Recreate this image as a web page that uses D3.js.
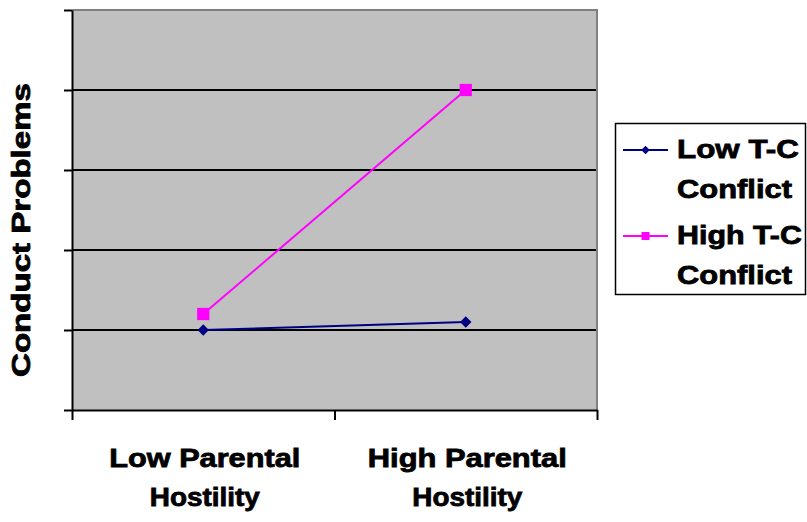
<!DOCTYPE html>
<html>
<head>
<meta charset="utf-8">
<script src="https://cdn.jsdelivr.net/npm/d3@7"></script>
<style>
	body { margin: 0; background: #fff; }
	svg { display: block; font-family: "Liberation Sans", Arial, sans-serif; font-weight: bold; }
</style>
</head>
<body>
<div id="chart"></div>
<script>
// data (unlabelled y scale, 0..5)
const categories = ['Low Parental Hostility', 'High Parental Hostility'];
const categoryLines = [['Low Parental', 'Hostility'], ['High Parental', 'Hostility']];
const lowConflict = [1.0, 1.1];
const highConflict = [1.2, 4.0];
const seriesNames = [['Low T-C', 'Conflict'], ['High T-C', 'Conflict']];
const yTicks = [0, 1, 2, 3, 4, 5];

const width = 807, height = 522;
const plot = { left: 72, right: 597, top: 10, bottom: 410 };

const $svg = d3.select('#chart').append('svg')
	.attr('width', width)
	.attr('height', height);

const x = d3.scaleBand()
	.domain(categories)
	.range([plot.left, plot.right])
	.padding(0);
const xEdge = d3.scaleLinear().domain([0, categories.length]).range([plot.left, plot.right]);
const y = d3.scaleLinear().domain([0, 5]).range([plot.bottom, plot.top]);

// text stretched along its reading direction, like the original
function wideText($parent, str, px, py, target, anchor, rotate) {
	const $g = $parent.append('g')
		.attr('transform', `translate(${px},${py})` + (rotate ? ' rotate(-90)' : ''));
	const $t = $g.append('text')
		.attr('font-size', 26)
		.attr('text-anchor', anchor)
		.attr('stroke', '#000')
		.attr('stroke-width', 0.8)
		.text(str);
	const sx = target / $t.node().getComputedTextLength();
	$t.attr('transform', `scale(${sx},1)`);
	return $t;
}

// plot area
$svg.append('rect')
	.attr('x', plot.left)
	.attr('y', plot.top)
	.attr('width', plot.right - plot.left)
	.attr('height', plot.bottom - plot.top)
	.attr('fill', '#c0c0c0');

// gridlines
$svg.append('g')
	.selectAll('line')
	.data(yTicks.filter(d => d > 0 && d < 5))
	.enter()
	.append('line')
	.attr('x1', plot.left)
	.attr('x2', plot.right)
	.attr('y1', d => y(d))
	.attr('y2', d => y(d))
	.attr('stroke', '#000')
	.attr('stroke-width', 2);

// gray border top/right
$svg.append('path')
	.attr('d', `M${plot.left},${plot.top}H${plot.right}V${plot.bottom}`)
	.attr('fill', 'none')
	.attr('stroke', '#808080')
	.attr('stroke-width', 2);

// axes
const yAxis = $svg.append('g')
	.attr('transform', `translate(${plot.left},0)`)
	.call(d3.axisLeft(y).tickValues(yTicks).tickFormat('').tickSize(8).tickSizeOuter(0));
const xAxis = $svg.append('g')
	.attr('transform', `translate(0,${plot.bottom})`)
	.call(d3.axisBottom(xEdge).tickValues(d3.range(categories.length + 1)).tickFormat('').tickSize(10).tickSizeOuter(0));
[yAxis, xAxis].forEach(a => {
	a.selectAll('path, line').attr('stroke', '#000').attr('stroke-width', 2);
});

// category labels
const catLengths = [[191, 110], [199, 110]];
categories.forEach((c, i) => {
	categoryLines[i].forEach((t, j) => {
		wideText($svg, t, x(c) + x.bandwidth() / 2 + 1.5, 467 + j * 39, catLengths[i][j], 'middle');
	});
});

// y title
wideText($svg, 'Conduct Problems', 30, 230, 294, 'middle', true);

// series
const series = [
	{ values: lowConflict, color: '#000080', size: 64, lsize: 36, rot: 45 },
	{ values: highConflict, color: '#ff00ff', size: 150, lsize: 64, rot: 0 }
];
const line = d3.line()
	.x((d, i) => x(categories[i]) + x.bandwidth() / 2)
	.y(d => y(d));

series.forEach(s => {
	$svg.append('path')
		.datum(s.values)
		.attr('d', line)
		.attr('fill', 'none')
		.attr('stroke', s.color)
		.attr('stroke-width', 2);
	$svg.append('g')
		.selectAll('path')
		.data(s.values)
		.enter()
		.append('path')
		.attr('transform', (d, i) => `translate(${x(categories[i]) + x.bandwidth() / 2},${y(d)}) rotate(${s.rot})`)
		.attr('d', d3.symbol().type(d3.symbolSquare).size(s.size))
		.attr('fill', s.color);
});

// legend
const $legend = $svg.append('g');
$legend.append('rect')
	.attr('x', 615.5)
	.attr('y', 123.5)
	.attr('width', 190)
	.attr('height', 171)
	.attr('fill', '#fff')
	.attr('stroke', '#000')
	.attr('stroke-width', 1.5);
const legendLengths = [[122, 115], [125, 115]];
series.forEach((s, i) => {
	const cy = 150 + i * 86;
	$legend.append('line')
		.attr('x1', 623).attr('x2', 668)
		.attr('y1', cy).attr('y2', cy)
		.attr('stroke', s.color)
		.attr('stroke-width', 2);
	$legend.append('path')
		.attr('transform', `translate(645.5,${cy}) rotate(${s.rot})`)
		.attr('d', d3.symbol().type(d3.symbolSquare).size(s.lsize))
		.attr('fill', s.color);
	seriesNames[i].forEach((t, j) => {
		wideText($legend, t, 677, cy + 7.5 + j * 40, legendLengths[i][j], 'start');
	});
});
</script>
</body>
</html>
